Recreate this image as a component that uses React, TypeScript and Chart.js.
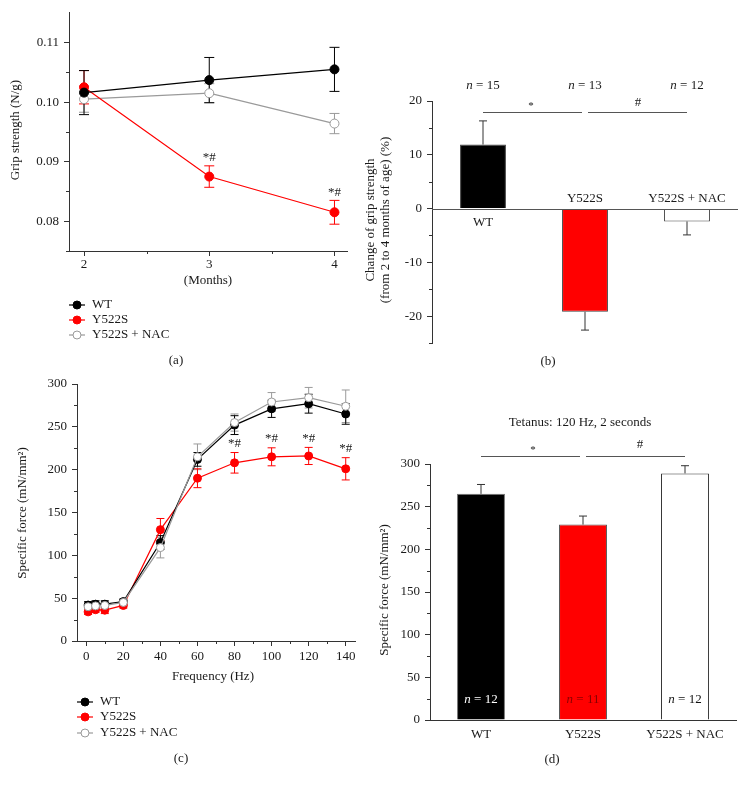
import React, { useEffect, useRef } from "react";
import { Chart, registerables } from "chart.js";
Chart.register(...registerables);

const W = 746;
const H = 785;
const FONT = "'Liberation Serif', 'Times New Roman', serif";
const AXIS = "#333";
const TXT = "#1a1a1a";
const RED = "#ff0000";
const GRAY = "#9a9a9a";

// ---------- Panel (a): grip strength ----------
const monthsA = [2, 3, 4];
const gripWT = [0.1016, 0.1037, 0.1055];
const gripWTErr = [0.0037, 0.0038, 0.0037];
const gripY522S = [0.1025, 0.0875, 0.0815];
const gripY522SErr = [0.0028, 0.0018, 0.002];
const gripNAC = [0.1005, 0.1015, 0.0964];
const gripNACErr = [0.0022, 0.0016, 0.0017];
const gripYTicks = [0.08, 0.09, 0.1, 0.11];
const gripYMinor = [0.075, 0.085, 0.095, 0.105];
const gripXMinor = [2.5, 3.5];
const gripSig = ["", "*#", "*#"];

// ---------- Panel (b): change of grip strength ----------
const groups = ["WT", "Y522S", "Y522S + NAC"];
const changeValues = [11.9, -19.2, -2.4];
const changeErr = [4.4, 3.4, 2.5];
const changeN = ["15", "13", "12"];
const changeYTicks = [-20, -10, 0, 10, 20];
const changeYMinor = [-25, -15, -5, 5, 15];

// ---------- Panel (c): force-frequency ----------
const freqs = [1, 5, 10, 20, 40, 60, 80, 100, 120, 140];
const forceWT = [42, 43, 43, 46, 115, 212, 252, 271, 277, 265];
const forceWTErr = [4, 4, 4, 3, 8, 8, 11, 10, 11, 12];
const forceY522S = [34, 36.5, 36, 41.5, 130, 190, 208, 215, 216, 201];
const forceY522SErr = [3, 3, 4, 3, 13, 11, 12, 10.5, 10, 13];
const forceNAC = [40, 41, 41.5, 45, 109, 215, 255, 279, 284, 274];
const forceNACErr = [4, 4, 4, 3, 12, 15, 10, 11, 12, 19];
const forceSig = ["", "", "", "", "", "", "*#", "*#", "*#", "*#"];
const forceXTicks = [0, 20, 40, 60, 80, 100, 120, 140];
const forceXMinor = [10, 30, 50, 70, 90, 110, 130];
const forceYTicks = [0, 50, 100, 150, 200, 250, 300];
const forceYMinor = [25, 75, 125, 175, 225, 275];

// ---------- Panel (d): tetanus ----------
const tetanus = [265, 229, 289];
const tetanusErr = [11, 10, 9];
const tetanusN = ["12", "11", "12"];
const tetanusYTicks = [0, 50, 100, 150, 200, 250, 300];
const tetanusYMinor = [25, 75, 125, 175, 225, 275];

type Area = { l: number; t: number; r: number; b: number };

function padFor(a: Area, yW: number, xH: number) {
  return { left: a.l - yW, top: a.t, right: W - a.r, bottom: H - a.b - xH };
}

function text(ctx: CanvasRenderingContext2D, s: string, x: number, y: number, o: any = {}) {
  ctx.save();
  ctx.font = `${o.italic ? "italic " : ""}${o.size || 13}px ${FONT}`;
  ctx.fillStyle = o.color || TXT;
  ctx.textAlign = o.align || "center";
  ctx.textBaseline = "middle";
  if (o.rot) {
    ctx.translate(x, y);
    ctx.rotate(-Math.PI / 2);
    ctx.fillText(s, 0, 0);
  } else ctx.fillText(s, x, y);
  ctx.restore();
}

function nLabel(ctx: CanvasRenderingContext2D, num: string, x: number, y: number, color: string) {
  ctx.save();
  const f1 = `italic 13px ${FONT}`;
  const f2 = `13px ${FONT}`;
  ctx.font = f1;
  const w1 = ctx.measureText("n").width;
  const rest = " = " + num;
  ctx.font = f2;
  const w2 = ctx.measureText(rest).width;
  const x0 = x - (w1 + w2) / 2;
  ctx.fillStyle = color;
  ctx.textBaseline = "middle";
  ctx.textAlign = "left";
  ctx.font = f1;
  ctx.fillText("n", x0, y);
  ctx.font = f2;
  ctx.fillText(rest, x0 + w1, y);
  ctx.restore();
}

function seg(ctx: CanvasRenderingContext2D, x1: number, y1: number, x2: number, y2: number, color: string, w = 1) {
  ctx.save();
  ctx.strokeStyle = color;
  ctx.lineWidth = w;
  ctx.beginPath();
  ctx.moveTo(x1, y1);
  ctx.lineTo(x2, y2);
  ctx.stroke();
  ctx.restore();
}

function minorY(ctx: CanvasRenderingContext2D, scale: any, vals: number[], len = 3) {
  vals.forEach((v) => {
    const y = Math.round(scale.getPixelForValue(v)) + 0.5;
    seg(ctx, scale.right, y, scale.right - len, y, AXIS);
  });
}
function minorX(ctx: CanvasRenderingContext2D, scale: any, vals: number[], len = 3) {
  vals.forEach((v) => {
    const x = Math.round(scale.getPixelForValue(v)) + 0.5;
    seg(ctx, x, scale.top, x, scale.top + len, AXIS);
  });
}

function lineErrors(chart: any, xs: number[], ys: number[], errs: number[], color: string, cap: number) {
  const ctx = chart.ctx;
  const sx = chart.scales.x;
  const sy = chart.scales.y;
  xs.forEach((xv, i) => {
    const x = sx.getPixelForValue(xv);
    const y1 = sy.getPixelForValue(ys[i] + errs[i]);
    const y2 = sy.getPixelForValue(ys[i] - errs[i]);
    seg(ctx, x, y1, x, y2, color, 1);
    seg(ctx, x - cap, y1, x + cap, y1, color, 1);
    seg(ctx, x - cap, y2, x + cap, y2, color, 1);
  });
}

function barErrors(chart: any, vals: number[], errs: number[], color: string, cap: number) {
  const ctx = chart.ctx;
  const sx = chart.scales.x;
  const sy = chart.scales.y;
  vals.forEach((v, i) => {
    const x = sx.getPixelForValue(i);
    const end = v >= 0 ? v + errs[i] : v - errs[i];
    const y0 = sy.getPixelForValue(v);
    const y1 = sy.getPixelForValue(end);
    seg(ctx, x, y0, x, y1, color, 1);
    seg(ctx, x - cap, y1, x + cap, y1, color, 1);
  });
}

function legend(ctx: CanvasRenderingContext2D, x0: number, ys: number[], r: number) {
  const items = [
    { label: "WT", stroke: "#000", fill: "#000" },
    { label: "Y522S", stroke: RED, fill: RED },
    { label: "Y522S + NAC", stroke: GRAY, fill: "#fff" },
  ];
  items.forEach((it, i) => {
    const y = ys[i];
    seg(ctx, x0, y, x0 + 16, y, it.stroke, 1.2);
    ctx.save();
    ctx.beginPath();
    ctx.arc(x0 + 8, y, r, 0, Math.PI * 2);
    ctx.fillStyle = it.fill;
    ctx.fill();
    ctx.strokeStyle = it.stroke;
    ctx.lineWidth = 1;
    ctx.stroke();
    ctx.restore();
    text(ctx, it.label, x0 + 23, y, { align: "left" });
  });
}

function yAxis(min: number, max: number, ticks: number[], fmt: (v: number) => string, width: number) {
  return {
    type: "linear",
    position: "left",
    min,
    max,
    afterBuildTicks: (s: any) => {
      s.ticks = ticks.map((v) => ({ value: v }));
    },
    afterFit: (s: any) => {
      s.width = width;
    },
    grid: { display: true, drawOnChartArea: false, drawTicks: true, tickLength: 5, color: AXIS, tickColor: AXIS },
    border: { display: true, color: AXIS, width: 1 },
    ticks: { font: { family: FONT, size: 13 }, color: TXT, padding: 5, callback: (v: any) => fmt(Number(v)) },
  };
}

function xLinear(min: number, max: number, ticks: number[], height: number, pad: number) {
  return {
    type: "linear",
    position: "bottom",
    min,
    max,
    afterBuildTicks: (s: any) => {
      s.ticks = ticks.map((v) => ({ value: v }));
    },
    afterFit: (s: any) => {
      s.height = height;
    },
    grid: { display: true, drawOnChartArea: false, drawTicks: true, tickLength: 5, color: AXIS, tickColor: AXIS },
    border: { display: true, color: AXIS, width: 1 },
    ticks: { font: { family: FONT, size: 13 }, color: TXT, padding: pad, maxRotation: 0, callback: (v: any) => String(v) },
  };
}

const base = {
  responsive: false,
  animation: false,
  devicePixelRatio: 1,
  events: [],
  plugins: { legend: { display: false }, tooltip: { enabled: false } },
};

function lineDs(label: string, xs: number[], ys: number[], color: string, fill: string, r: number, order: number) {
  return {
    label,
    order,
    data: xs.map((x, i) => ({ x, y: ys[i] })),
    borderColor: color,
    backgroundColor: fill,
    pointBackgroundColor: fill,
    pointBorderColor: color,
    pointBorderWidth: 1,
    pointRadius: r,
    borderWidth: 1.2,
    tension: 0,
  };
}

function makeA(cv: HTMLCanvasElement) {
  const area = { l: 69, t: 8, r: 347, b: 251 };
  return new Chart(cv, {
    type: "line",
    data: {
      datasets: [
        lineDs("WT", monthsA, gripWT, "#000", "#000", 4.5, 0),
        lineDs("Y522S", monthsA, gripY522S, RED, RED, 4.5, 1),
        lineDs("Y522S + NAC", monthsA, gripNAC, GRAY, "#fff", 4.5, 2),
      ],
    },
    options: {
      ...base,
      layout: { padding: padFor(area, 45, 30) },
      scales: {
        x: xLinear(1.88, 4.1, monthsA, 30, 1),
        y: yAxis(0.075, 0.115, gripYTicks, (v) => v.toFixed(2), 45),
      },
    } as any,
    plugins: [
      {
        id: "ovA",
        beforeDatasetsDraw(chart: any) {
          lineErrors(chart, monthsA, gripNAC, gripNACErr, GRAY, 5);
          lineErrors(chart, monthsA, gripY522S, gripY522SErr, RED, 5);
          lineErrors(chart, monthsA, gripWT, gripWTErr, "#000", 5);
        },
        afterDraw(chart: any) {
          const ctx = chart.ctx;
          minorY(ctx, chart.scales.y, gripYMinor);
          minorX(ctx, chart.scales.x, gripXMinor);
          monthsA.forEach((m, i) => {
            if (!gripSig[i]) return;
            const x = chart.scales.x.getPixelForValue(m);
            const y = chart.scales.y.getPixelForValue(gripY522S[i] + gripY522SErr[i]);
            text(ctx, gripSig[i], x, y - 8);
          });
          text(ctx, "Grip strength (N/g)", 16, 130, { rot: true });
          text(ctx, "(Months)", 208, 281);
          legend(ctx, 69, [305, 320, 335], 4);
          text(ctx, "(a)", 176, 361);
        },
      },
    ],
  });
}

function makeB(cv: HTMLCanvasElement) {
  const area = { l: 432, t: 101, r: 738, b: 343 };
  return new Chart(cv, {
    type: "bar",
    data: {
      labels: groups,
      datasets: [
        {
          data: changeValues,
          backgroundColor: ["#000", RED, "#fff"],
          borderColor: ["#444", "#444", "#444"],
          borderWidth: 1,
          barPercentage: 0.45,
          categoryPercentage: 1,
        },
      ],
    },
    options: {
      ...base,
      layout: { padding: padFor(area, 40, 0) },
      scales: {
        x: { type: "category", display: false },
        y: yAxis(-25, 20, changeYTicks, (v) => String(v), 40),
      },
    } as any,
    plugins: [
      {
        id: "ovB",
        afterDatasetsDraw(chart: any) {
          const ctx = chart.ctx;
          const sy = chart.scales.y;
          const y0 = Math.round(sy.getPixelForValue(0)) + 0.5;
          seg(ctx, chart.chartArea.left, y0, chart.chartArea.right, y0, "#555", 1);
          barErrors(chart, changeValues, changeErr, "#333", 4);
        },
        afterDraw(chart: any) {
          const ctx = chart.ctx;
          const sx = chart.scales.x;
          const sy = chart.scales.y;
          minorY(ctx, sy, changeYMinor);
          const y0 = sy.getPixelForValue(0);
          const top = chart.chartArea.top;
          groups.forEach((g, i) => {
            const x = sx.getPixelForValue(i);
            text(ctx, g, x, changeValues[i] >= 0 ? y0 + 14 : y0 - 10);
            nLabel(ctx, changeN[i], x, top - 15, TXT);
          });
          const c0 = sx.getPixelForValue(0);
          const c1 = sx.getPixelForValue(1);
          const c2 = sx.getPixelForValue(2);
          const ly = top + 11.5;
          seg(ctx, c0, ly, c1 - 3, ly, "#555", 1);
          seg(ctx, c1 + 3, ly, c2, ly, "#555", 1);
          text(ctx, "*", (c0 + c1) / 2 - 3, ly - 6, { size: 11 });
          text(ctx, "#", (c1 + c2) / 2 + 2, ly - 10);
          text(ctx, "Change of grip strength", 371, 220, { rot: true });
          text(ctx, "(from 2 to 4 months of age) (%)", 386, 220, { rot: true });
          text(ctx, "(b)", 548, 362);
        },
      },
    ],
  });
}

function makeC(cv: HTMLCanvasElement) {
  const area = { l: 77, t: 384, r: 355, b: 641 };
  return new Chart(cv, {
    type: "line",
    data: {
      datasets: [
        lineDs("WT", freqs, forceWT, "#000", "#000", 4, 1),
        lineDs("Y522S", freqs, forceY522S, RED, RED, 4, 2),
        lineDs("Y522S + NAC", freqs, forceNAC, GRAY, "#fff", 4, 0),
      ],
    },
    options: {
      ...base,
      layout: { padding: padFor(area, 45, 30) },
      scales: {
        x: xLinear(-5, 145, forceXTicks, 30, 3),
        y: yAxis(0, 300, forceYTicks, (v) => String(v), 45),
      },
    } as any,
    plugins: [
      {
        id: "ovC",
        beforeDatasetsDraw(chart: any) {
          lineErrors(chart, freqs, forceNAC, forceNACErr, GRAY, 4);
          lineErrors(chart, freqs, forceY522S, forceY522SErr, RED, 4);
          lineErrors(chart, freqs, forceWT, forceWTErr, "#000", 4);
        },
        afterDraw(chart: any) {
          const ctx = chart.ctx;
          minorY(ctx, chart.scales.y, forceYMinor);
          minorX(ctx, chart.scales.x, forceXMinor);
          freqs.forEach((f, i) => {
            if (!forceSig[i]) return;
            const x = chart.scales.x.getPixelForValue(f);
            const y = chart.scales.y.getPixelForValue(forceY522S[i] + forceY522SErr[i]);
            text(ctx, forceSig[i], x, y - 9);
          });
          text(ctx, "Specific force (mN/mm\u00B2)", 23, 513, { rot: true });
          text(ctx, "Frequency (Hz)", 213, 677);
          legend(ctx, 77, [702, 717, 733], 4);
          text(ctx, "(c)", 181, 759);
        },
      },
    ],
  });
}

function makeD(cv: HTMLCanvasElement) {
  const area = { l: 430, t: 464, r: 736, b: 720 };
  return new Chart(cv, {
    type: "bar",
    data: {
      labels: groups,
      datasets: [
        {
          data: tetanus,
          backgroundColor: ["#000", RED, "#fff"],
          borderColor: ["#777", "#555", "#333"],
          borderWidth: 1,
          barPercentage: 0.47,
          categoryPercentage: 1,
        },
      ],
    },
    options: {
      ...base,
      layout: { padding: padFor(area, 40, 30) },
      scales: {
        x: {
          type: "category",
          position: "bottom",
          afterFit: (s: any) => {
            s.height = 30;
          },
          grid: { display: true, drawOnChartArea: false, drawTicks: false, color: AXIS },
          border: { display: true, color: AXIS, width: 1 },
          ticks: { font: { family: FONT, size: 13 }, color: TXT, padding: 7, maxRotation: 0 },
        },
        y: yAxis(0, 300, tetanusYTicks, (v) => String(v), 40),
      },
    } as any,
    plugins: [
      {
        id: "ovD",
        afterDatasetsDraw(chart: any) {
          barErrors(chart, tetanus, tetanusErr, "#333", 4);
        },
        afterDraw(chart: any) {
          const ctx = chart.ctx;
          const sx = chart.scales.x;
          const sy = chart.scales.y;
          minorY(ctx, sy, tetanusYMinor);
          const nColors = ["#fff", "#8a0000", "#111"];
          groups.forEach((g, i) => {
            nLabel(ctx, tetanusN[i], sx.getPixelForValue(i), chart.chartArea.bottom - 20, nColors[i]);
          });
          const c0 = sx.getPixelForValue(0);
          const c1 = sx.getPixelForValue(1);
          const c2 = sx.getPixelForValue(2);
          const ly = chart.chartArea.top - 7.5;
          seg(ctx, c0, ly, c1 - 3, ly, "#555", 1);
          seg(ctx, c1 + 3, ly, c2, ly, "#555", 1);
          text(ctx, "*", (c0 + c1) / 2 + 1, ly - 6, { size: 11 });
          text(ctx, "#", (c1 + c2) / 2 + 6, ly - 12);
          text(ctx, "Tetanus: 120 Hz, 2 seconds", 580, 423);
          text(ctx, "Specific force (mN/mm\u00B2)", 385, 590, { rot: true });
          text(ctx, "(d)", 552, 760);
        },
      },
    ],
  });
}

export default function App() {
  const r0 = useRef<HTMLCanvasElement>(null);
  const r1 = useRef<HTMLCanvasElement>(null);
  const r2 = useRef<HTMLCanvasElement>(null);
  const r3 = useRef<HTMLCanvasElement>(null);
  useEffect(() => {
    const charts = [makeA(r0.current!), makeB(r1.current!), makeC(r2.current!), makeD(r3.current!)];
    return () => charts.forEach((c) => c.destroy());
  }, []);
  const st: any = { position: "absolute", left: 0, top: 0, width: W, height: H };
  return (
    <div style={{ position: "absolute", left: 0, top: 0, width: W, height: H, background: "#fff", overflow: "hidden" }}>
      <canvas ref={r0} width={W} height={H} style={st} />
      <canvas ref={r1} width={W} height={H} style={st} />
      <canvas ref={r2} width={W} height={H} style={st} />
      <canvas ref={r3} width={W} height={H} style={st} />
    </div>
  );
}
